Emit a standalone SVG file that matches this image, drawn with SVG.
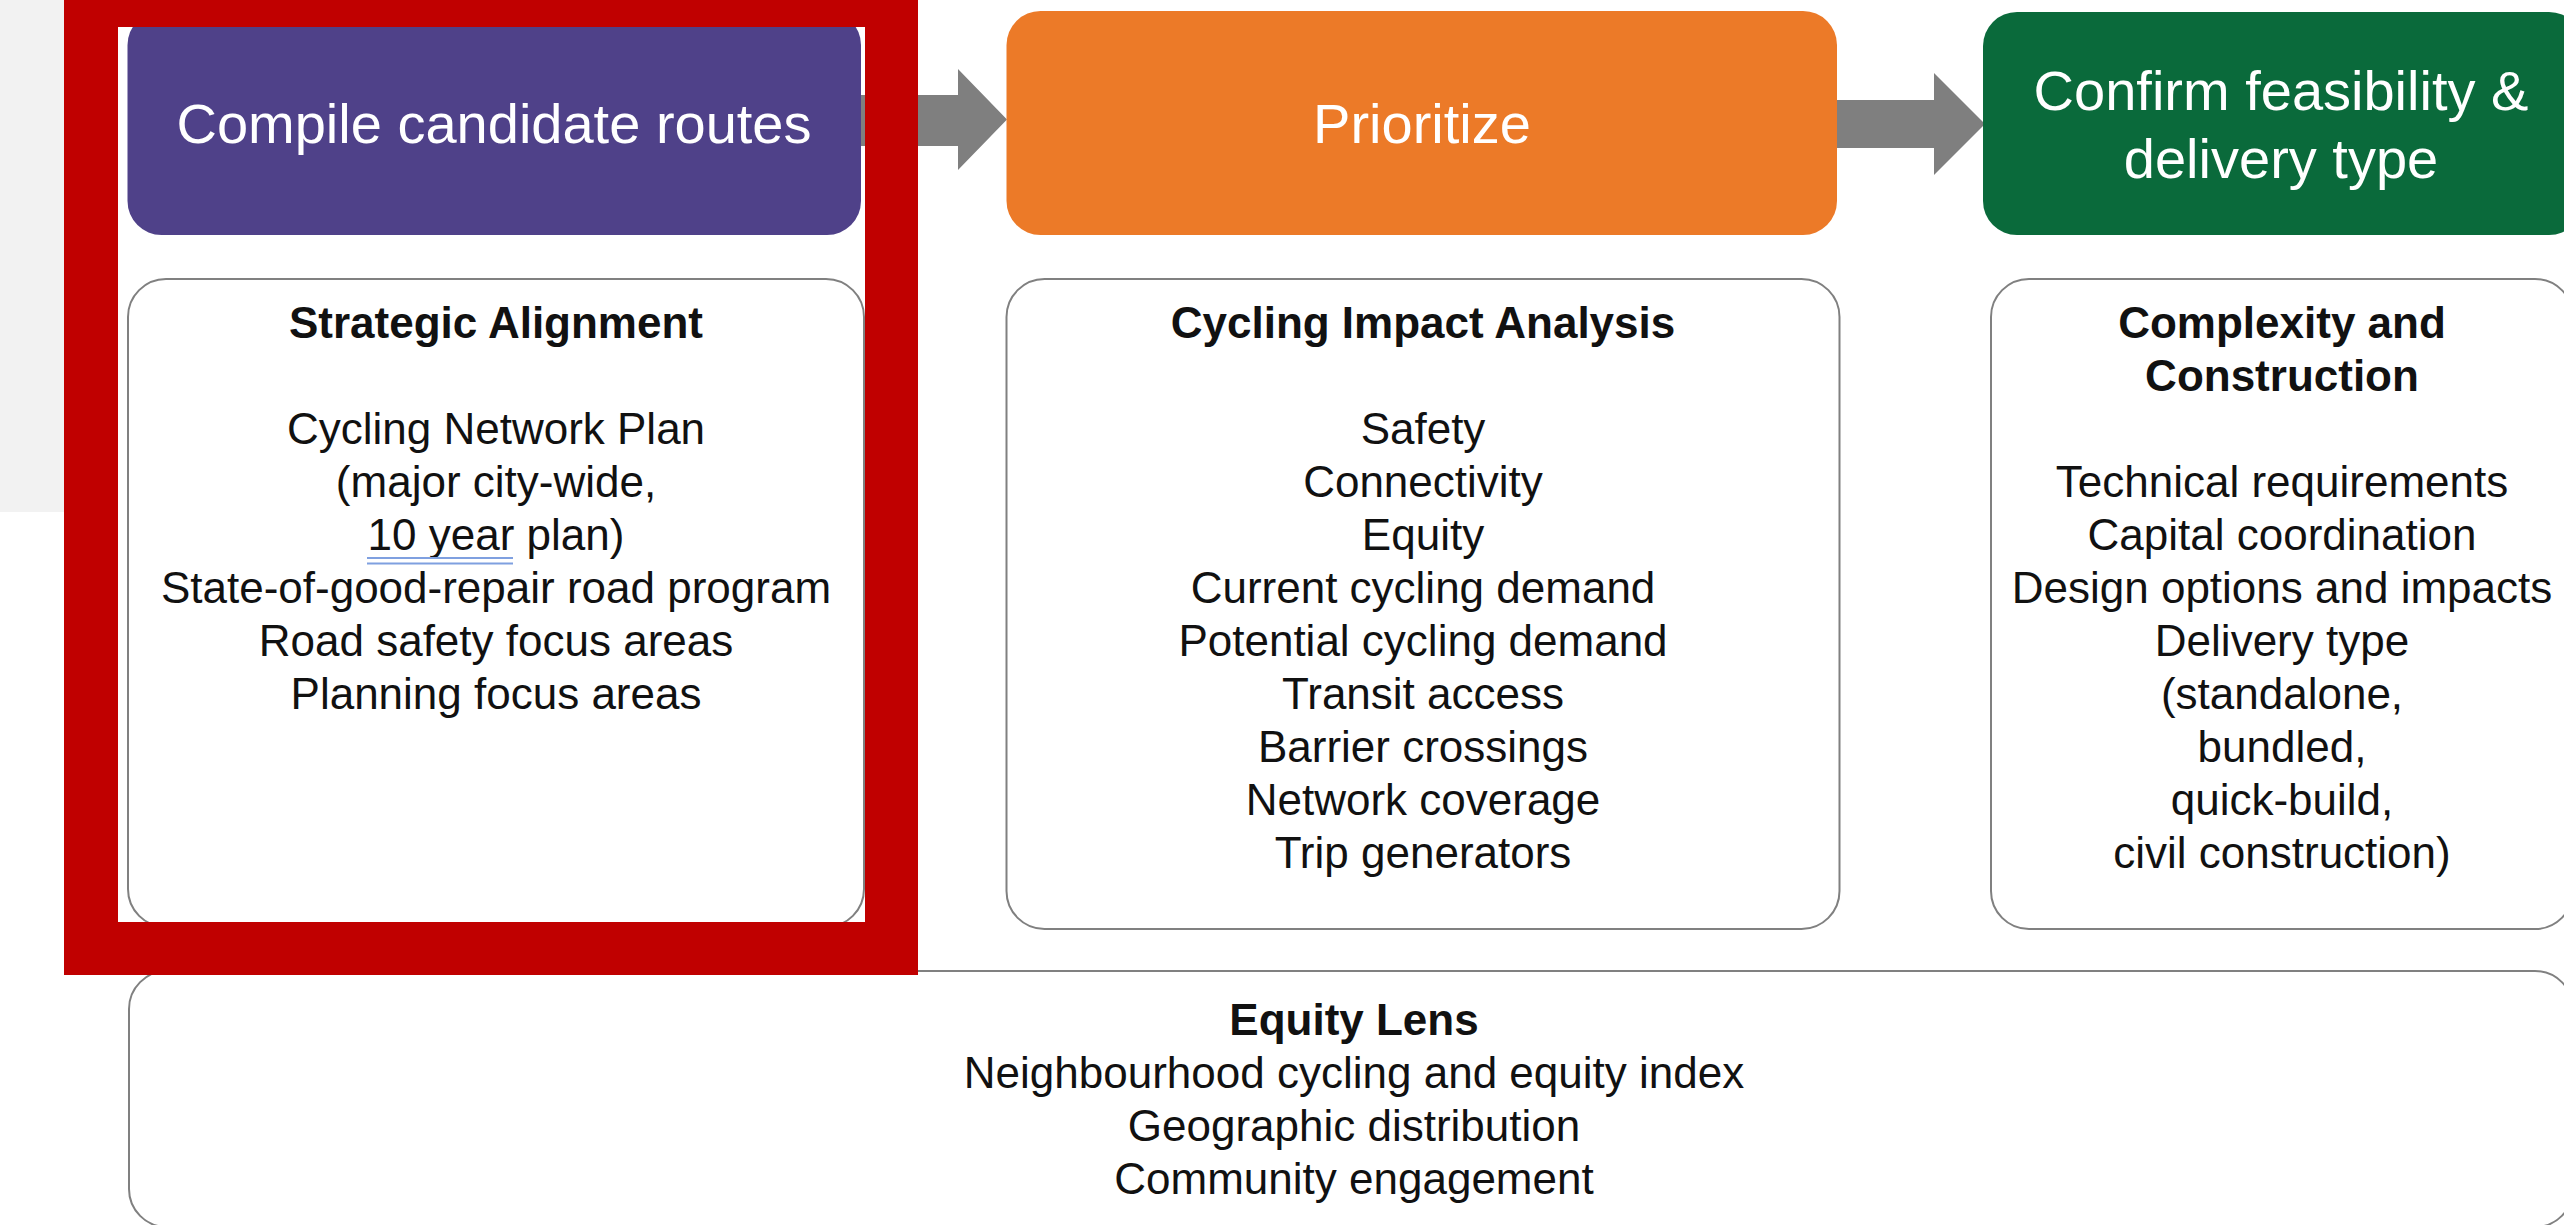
<svg xmlns="http://www.w3.org/2000/svg" width="2564" height="1225" viewBox="0 0 2564 1225">
  <defs>
    <style>
      .hdr { font-family: "Liberation Sans", Arial, sans-serif; font-size: 56px; fill: #ffffff; text-anchor: middle; }
      .txt { font-family: "Liberation Sans", Arial, sans-serif; font-size: 44px; fill: #111111; text-anchor: middle; }
      .ttl { font-weight: bold; }
      .card { fill: #ffffff; stroke: #808080; stroke-width: 2; }
      .arrow { fill: #7f7f7f; }
      .spell { stroke: #7fa0e0; stroke-width: 2; fill: none; }
    </style>
  </defs>

  <rect x="0" y="0" width="2564" height="1225" fill="#ffffff"/>
  <rect x="0" y="0" width="64" height="512" fill="#f2f2f2"/>

  <g id="connectors">
    <polygon class="arrow" points="850,95 958,95 958,69 1007,119.5 958,170 958,146 850,146"/>
    <polygon class="arrow" points="1830,100 1934,100 1934,73 1985,124 1934,175 1934,148 1830,148"/>
  </g>

  <g id="step-compile">
    <rect x="127.5" y="11" width="733.5" height="224" rx="34" ry="34" fill="#4f4189"/>
    <text class="hdr" x="494" y="143">Compile candidate routes</text>
  </g>

  <g id="step-prioritize">
    <rect x="1006.5" y="11" width="830.5" height="224" rx="34" ry="34" fill="#ec7a28"/>
    <text class="hdr" x="1422" y="143">Prioritize</text>
  </g>

  <g id="step-confirm">
    <rect x="1983" y="12" width="600" height="223" rx="34" ry="34" fill="#0a6a3b"/>
    <text class="hdr" x="2281" y="110">Confirm feasibility &amp;</text>
    <text class="hdr" x="2281" y="178">delivery type</text>
  </g>

  <g id="strategic-alignment">
    <rect class="card" x="128" y="279" width="736" height="648" rx="38" ry="38"/>
    <text class="txt ttl" x="496" y="338">Strategic Alignment</text>
    <text class="txt" x="496" y="444">Cycling Network Plan</text>
    <text class="txt" x="496" y="497">(major city-wide,</text>
    <text class="txt" x="496" y="550">10 year plan)</text>
    <line class="spell" x1="367" y1="558" x2="513" y2="558"/>
    <line class="spell" x1="367" y1="563.5" x2="513" y2="563.5"/>
    <text class="txt" x="496" y="603">State-of-good-repair road program</text>
    <text class="txt" x="496" y="656">Road safety focus areas</text>
    <text class="txt" x="496" y="709">Planning focus areas</text>
  </g>

  <g id="cycling-impact-analysis">
    <rect class="card" x="1006.5" y="279" width="833" height="650" rx="38" ry="38"/>
    <text class="txt ttl" x="1423" y="338">Cycling Impact Analysis</text>
    <text class="txt" x="1423" y="444">Safety</text>
    <text class="txt" x="1423" y="497">Connectivity</text>
    <text class="txt" x="1423" y="550">Equity</text>
    <text class="txt" x="1423" y="603">Current cycling demand</text>
    <text class="txt" x="1423" y="656">Potential cycling demand</text>
    <text class="txt" x="1423" y="709">Transit access</text>
    <text class="txt" x="1423" y="762">Barrier crossings</text>
    <text class="txt" x="1423" y="815">Network coverage</text>
    <text class="txt" x="1423" y="868">Trip generators</text>
  </g>

  <g id="complexity-construction">
    <rect class="card" x="1991" y="279" width="582" height="650" rx="38" ry="38"/>
    <text class="txt ttl" x="2282" y="338">Complexity and</text>
    <text class="txt ttl" x="2282" y="391">Construction</text>
    <text class="txt" x="2282" y="497">Technical requirements</text>
    <text class="txt" x="2282" y="550">Capital coordination</text>
    <text class="txt" x="2282" y="603">Design options and impacts</text>
    <text class="txt" x="2282" y="656">Delivery type</text>
    <text class="txt" x="2282" y="709">(standalone,</text>
    <text class="txt" x="2282" y="762">bundled,</text>
    <text class="txt" x="2282" y="815">quick-build,</text>
    <text class="txt" x="2282" y="868">civil construction)</text>
  </g>

  <g id="equity-lens">
    <rect class="card" x="129" y="971" width="2444" height="256" rx="38" ry="38"/>
    <text class="txt ttl" x="1354" y="1035">Equity Lens</text>
    <text class="txt" x="1354" y="1088">Neighbourhood cycling and equity index</text>
    <text class="txt" x="1354" y="1141">Geographic distribution</text>
    <text class="txt" x="1354" y="1194">Community engagement</text>
  </g>

  <g id="highlight-frame">
    <path d="M64,0 H918 V975 H64 Z M118,27 V922 H865 V27 Z" fill="#c00000" fill-rule="evenodd"/>
  </g>
</svg>
